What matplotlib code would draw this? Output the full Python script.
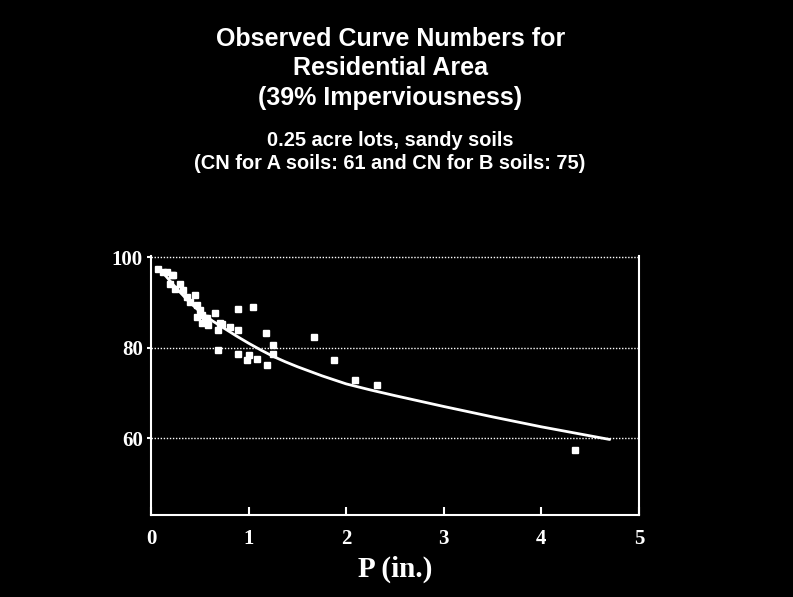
import matplotlib
matplotlib.use("Agg")
import matplotlib.pyplot as plt

# Observed data points (P in inches, observed CN)
obs_p = [0.075, 0.12, 0.16, 0.22, 0.23, 0.19, 0.30, 0.25, 0.33, 0.37, 0.45, 0.40,
         0.47, 0.50, 0.66, 0.47, 0.55, 0.52, 0.71, 0.52, 0.57, 0.58, 0.73, 0.81,
         0.69, 0.89, 0.89, 1.05, 1.18, 1.25, 0.69, 0.89, 1.00, 1.25, 0.98, 1.09,
         1.19, 1.67, 1.875, 2.09, 2.32, 4.34]
obs_cn = [97.5, 96.8, 96.8, 96.1, 96.1, 94.2, 94.2, 93.1, 92.8, 91.3, 91.7, 90.2,
          89.5, 88.4, 87.6, 86.9, 86.6, 85.5, 85.5, 87.3, 86.6, 85.1, 85.2, 84.5,
          84.0, 84.0, 88.5, 89.0, 83.3, 80.5, 79.6, 78.7, 78.5, 78.6, 77.2, 77.5,
          76.1, 82.4, 77.3, 72.9, 71.7, 57.3]

# Fitted curve
curve_p = [0.07, 0.15, 0.25, 0.375, 0.50, 0.625, 0.75, 0.875, 1.00, 1.125, 1.25,
           1.375, 1.50, 1.625, 1.75, 1.875, 2.00, 2.25, 2.50, 2.75, 3.00, 3.25,
           3.50, 3.75, 4.00, 4.35, 4.70]
curve_cn = [97.8, 95.9, 93.4, 90.5, 88.0, 86.0, 84.3, 82.6, 81.0, 79.5, 78.1,
            76.9, 75.8, 74.8, 73.8, 72.9, 72.0, 70.65, 69.4, 68.2, 67.0, 65.85,
            64.7, 63.6, 62.5, 61.1, 59.7]

x_ticks = [0, 1, 2, 3, 4, 5]
y_ticks = [60, 80, 100]

title_lines = "Observed Curve Numbers for\nResidential Area\n(39% Imperviousness)"
subtitle_lines = "0.25 acre lots, sandy soils\n(CN for A soils: 61 and CN for B soils: 75)"

fig = plt.figure(figsize=(7.93, 5.97), dpi=100, facecolor="black")
ax = fig.add_axes([0.1904, 0.1374, 0.6154, 0.4346], facecolor="black")

ax.plot(curve_p, curve_cn, color="white", lw=2.0, solid_capstyle="round",
        solid_joinstyle="round", zorder=3)
ax.plot(obs_p, obs_cn, "s", color="white", ms=3.8, mec="white", zorder=4)

ax.set_xlim(0, 5)
ax.set_ylim(43, 100.4)

for yv in y_ticks:
    ax.axhline(yv, color="white", lw=1.0, linestyle=(0, (1, 1.2)), zorder=1)

for s in ["left", "bottom", "right"]:
    ax.spines[s].set_color("white")
    ax.spines[s].set_linewidth(1.5)
ax.spines["top"].set_visible(False)

ax.set_xticks(x_ticks)
ax.set_yticks(y_ticks)
ax.set_xticklabels([str(v) for v in x_ticks])
ax.set_yticklabels([str(v) for v in y_ticks])
ax.tick_params(axis="x", direction="in", length=6, width=1.5, color="white",
               labelcolor="white", pad=10)
ax.tick_params(axis="y", direction="out", length=3, width=1.5, color="white",
               labelcolor="white", pad=3)
for lab in ax.get_xticklabels() + ax.get_yticklabels():
    lab.set_fontfamily("Liberation Serif")
    lab.set_fontweight("bold")
    lab.set_fontsize(15)

ax.set_xlabel("P (in.)", color="white", fontfamily="Liberation Serif",
              fontweight="bold", fontsize=21, labelpad=5)

fig.text(0.492, 0.955, title_lines, ha="center", va="top", color="white",
         fontfamily="Liberation Sans", fontweight="bold", fontsize=18,
         linespacing=1.28)
fig.text(0.492, 0.78, subtitle_lines, ha="center", va="top", color="white",
         fontfamily="Liberation Sans", fontweight="bold", fontsize=14.4,
         linespacing=1.27)

fig.savefig("out.png", dpi=100, facecolor="black")
